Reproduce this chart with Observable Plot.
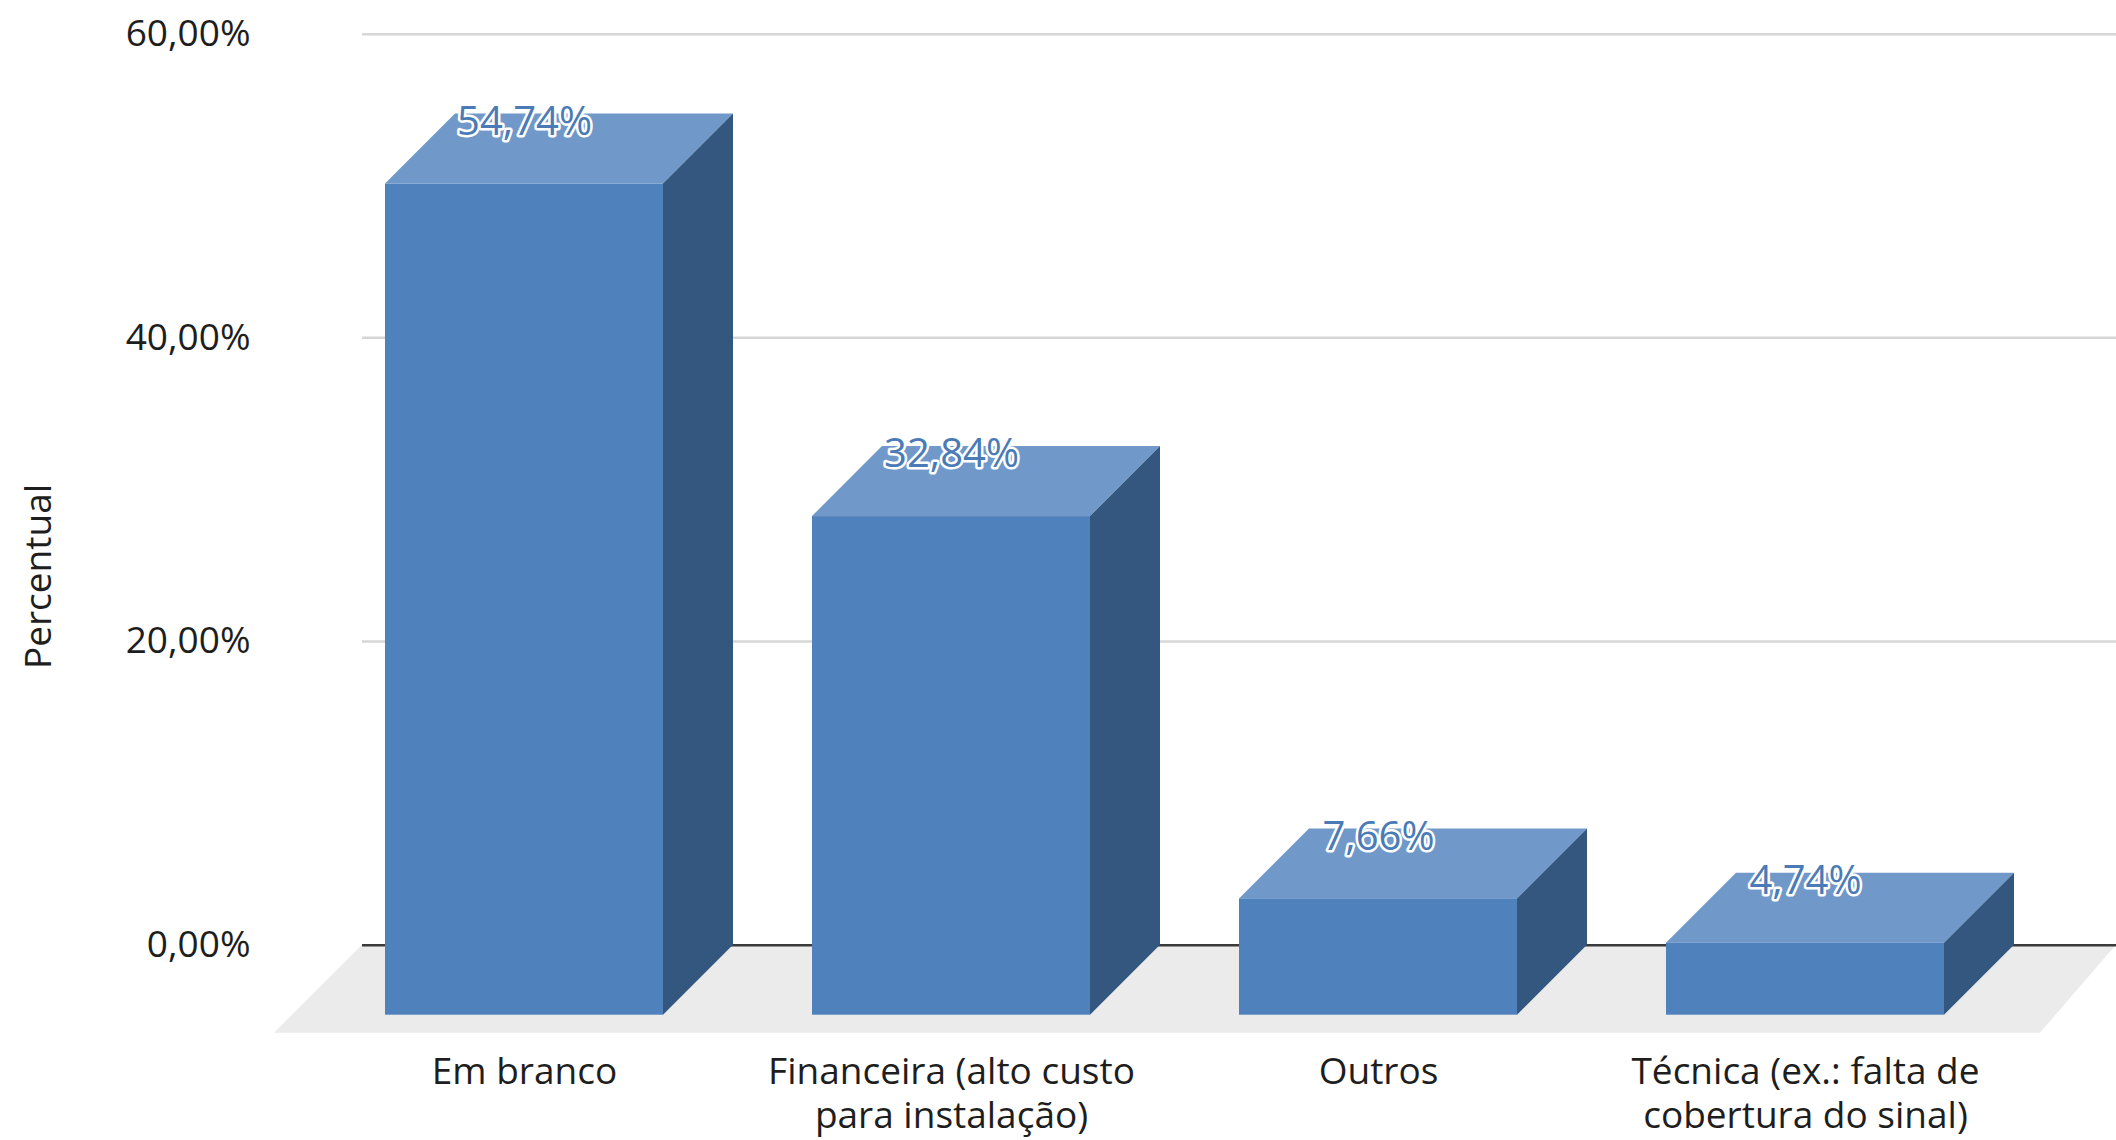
<!DOCTYPE html>
<html><head><meta charset="utf-8">
<script src="https://cdn.jsdelivr.net/npm/d3@7"></script>
<script src="https://cdn.jsdelivr.net/npm/@observablehq/plot@0.6"></script>
<style>html,body{margin:0;padding:0;background:#fff;}</style>
</head><body><div id="chart"></div>
<script>
const categories = ["Em branco", "Financeira (alto custo\npara instalação)", "Outros", "Técnica (ex.: falta de\ncobertura do sinal)"];
const values = [54.74, 32.84, 7.66, 4.74];
const yTicks = [0, 20, 40, 60];
const gridTicks = [20, 40, 60];
const data = categories.map((c, i) => ({category: c, value: values[i]}));
const fmt = v => v.toFixed(2).replace(".", ",") + "%";

const DEPTH = 70, FLOOR = 88, FLOOR_RIGHT = 76;
const FRONT = "#4F81BD", TOP = "#7099CA", SIDE = "#34577F";
const NS = "http://www.w3.org/2000/svg";

function cube(index, scales, vals, dims, ctx, next) {
  const g = next(index, scales, vals, dims, ctx);
  const rects = Array.from(g.querySelectorAll("rect"));
  for (const r of rects) {
    const x = +r.getAttribute("x"), y = +r.getAttribute("y");
    const w = +r.getAttribute("width"), h = +r.getAttribute("height");
    r.setAttribute("y", y + DEPTH);
    r.setAttribute("fill", FRONT);
    const top = document.createElementNS(NS, "path");
    top.setAttribute("d", `M${x},${y + DEPTH}L${x + w},${y + DEPTH}L${x + w + DEPTH},${y}L${x + DEPTH},${y}Z`);
    top.setAttribute("fill", TOP);
    const side = document.createElementNS(NS, "path");
    side.setAttribute("d", `M${x + w},${y + DEPTH}L${x + w + DEPTH},${y}L${x + w + DEPTH},${y + h}L${x + w},${y + h + DEPTH}Z`);
    side.setAttribute("fill", SIDE);
    r.parentNode.insertBefore(top, r);
    r.parentNode.insertBefore(side, r);
  }
  return g;
}

function floor(index, scales, vals, dims) {
  const y0 = scales.y(0);
  const l = dims.marginLeft, r = dims.width - dims.marginRight;
  return d3.create("svg:path")
    .attr("d", `M${l},${y0}L${r},${y0}L${r - FLOOR_RIGHT},${y0 + FLOOR}L${l - FLOOR},${y0 + FLOOR}Z`)
    .attr("fill", "#EBEBEB").node();
}

const plot = Plot.plot({
  width: 2116,
  height: 1140,
  marginLeft: 362,
  marginRight: 0,
  marginTop: 0,
  marginBottom: 108,
  style: {fontFamily: "'Open Sans', sans-serif", fontSize: "37px", color: "#1e1e1e", background: "#fff"},
  x: {type: "band", domain: categories, range: [310, 2019], paddingInner: 0.35, paddingOuter: 0.175},
  y: {domain: [0, 60], range: [944.7, 33.7]},
  marks: [
    Plot.ruleY([0], {render: floor}),
    Plot.ruleY(gridTicks, {stroke: "#D6D6D6", strokeWidth: 2.5}),
    Plot.ruleY([0], {stroke: "#3a3a3a", strokeWidth: 2.5}),
    Plot.axisY({ticks: yTicks, tickSize: 0, tickPadding: 112, tickFormat: fmt, label: "Percentual", labelAnchor: "center", labelOffset: 338, labelArrow: false, fontSize: 37}),
    Plot.axisX({tickSize: 0, tickPadding: 21, label: null, fontSize: 37, lineHeight: 1.17}),
    Plot.barY(data, {x: "category", y: "value", fill: FRONT, render: cube}),
    Plot.text(data, {x: "category", y: "value", text: d => fmt(d.value), dy: 8, fill: "#4A7BB7", stroke: "white", strokeWidth: 5, paintOrder: "stroke", fontSize: 40})
  ]
});
document.getElementById("chart").appendChild(plot);
const lg = plot.querySelector('[aria-label="y-axis label"]');
if (lg) lg.setAttribute("transform", ((lg.getAttribute("transform") || "") + " translate(0,60)").trim());
</script>
</body></html>
